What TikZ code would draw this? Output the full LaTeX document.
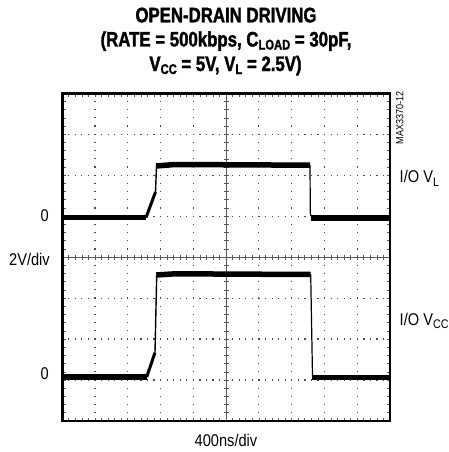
\documentclass[tikz,border=0pt]{standalone}
\usepackage{fontspec}
\setmainfont{Liberation Sans}[FakeStretch=0.86]
\newfontfamily\titlefont{Liberation Sans}[FakeStretch=0.8, BoldFeatures={FakeBold=1.6}]
\usepackage{tikz}
\usetikzlibrary{calc}
\newcommand{\xl}{62.2}
\newcommand{\xr}{390}
\newcommand{\yt}{93.3}
\newcommand{\yb}{421}
\newcommand{\dx}{32.78}
\newcommand{\dy}{40.96}
\newcommand{\lsub}[1]{\raisebox{-3.5pt}{\fontsize{12.5}{13}\selectfont #1}}
\newcommand{\tsub}[1]{\raisebox{-3pt}{\fontsize{14}{14}\selectfont #1}}
\newcommand{\band}[4]{\draw[trace] ( #1 , #2 ) -- ( #3 , #4 );}
\newcommand{\edge}[5]{\draw[black, line width=#5] ( #1 , #2 ) -- ( #3 , #4 );}
\tikzset{
  griddotv/.style={black!70, line width=1.2pt, dash pattern=on 1.2pt off 6.99pt, dash phase=0.6pt},
  griddoth/.style={black!70, line width=1.2pt, dash pattern=on 1.2pt off 5.36pt, dash phase=0.6pt},
  axisline/.style={black!65, line width=0.6pt},
  trace/.style={black, line width=5.5pt},
  lbl/.style={inner sep=0pt, font=\fontsize{17}{20}\selectfont},
  headtxt/.style={inner sep=0pt, font=\titlefont\bfseries\fontsize{21}{24}\selectfont}
}

\begin{document}
\begin{tikzpicture}[x=1pt,y=-1pt]

        \useasboundingbox (0,0) rectangle (448,452);

        % title
        \node[headtxt, anchor=base] (head1) at (226,22.3) {OPEN-DRAIN DRIVING};
        \node[headtxt, anchor=base] (head2) at (226,46.5) {(RATE = 500kbps, C\tsub{LOAD} = 30pF,};
        \node[headtxt, anchor=base] (head3) at (225.5,71) {V\tsub{CC} = 5V, V\tsub{L} = 2.5V)};

        % grid
        \foreach \i in {1,2,3,4,6,7,8,9}
            \draw[griddotv] ({\xl+\i*\dx},\yt) -- ({\xl+\i*\dx},\yb);
        \foreach \j in {1,2,3,5,6,7}
            \draw[griddoth] (\xl,{\yt+\j*\dy}) -- (\xr,{\yt+\j*\dy});

        % centre lines
        \draw[axisline] (\xl,{\yt+4*\dy}) -- (\xr,{\yt+4*\dy});
        \draw[axisline] ({\xl+5*\dx},\yt) -- ({\xl+5*\dx},\yb);
        \foreach \k in {1,...,49}
            \draw[axisline] ({\xl+\k*\dx/5},{\yt+4*\dy-2.5}) -- ++(0,5);
        \foreach \k in {1,...,39}
            \draw[axisline] ({\xl+5*\dx-2.5},{\yt+\k*\dy/5}) -- ++(5,0);

        % border ticks
        \foreach \k in {1,...,49} {
            \draw[axisline] ({\xl+\k*\dx/5},\yt) -- ++(0,3.5);
            \draw[axisline] ({\xl+\k*\dx/5},\yb) -- ++(0,-3.5);
        }
        \foreach \k in {1,...,39} {
            \draw[axisline] (\xl,{\yt+\k*\dy/5}) -- ++(3.5,0);
            \draw[axisline] (\xr,{\yt+\k*\dy/5}) -- ++(-3.5,0);
        }

        % I/O VL
        \band{\xl}{217.5}{146}{217.5}
        \edge{146}{217.5}{155.5}{192}{3pt}
        \edge{155.5}{192}{156.5}{166}{1.4pt}
        \draw[trace] (156,166) -- (175,164.5) -- (310,165.2);
        \draw[black, line width=1.2pt] (310,165) -- (310.3,212) .. controls (310.6,216) .. (313,217.5);
        \band{311}{217.8}{\xr}{217.8}

        % I/O VCC
        \band{\xl}{377}{146.7}{377}
        \edge{146.7}{377}{155}{352.5}{3pt}
        \edge{155}{352.5}{156.7}{275}{1.4pt}
        \draw[trace] (156.3,275) -- (175,273.8) -- (310.7,274.5);
        \edge{310.7}{274.5}{312.5}{376}{1.2pt}
        \band{312}{377.3}{\xr}{377.3}

        % frame
        \draw[line width=2.8pt] (\xl,\yt) rectangle (\xr,\yb);

        % labels
        \node[lbl, anchor=east] (zeroL) at (49,215.5) {0};
        \node[lbl, anchor=base east] (scaleV) at (50,265.7) {2V/div};
        \node[lbl, anchor=east] (zeroC) at (49,373.7) {0};
        \node[lbl, anchor=base] (scaleT) at (226,446.5) {400ns/div};
        \node[lbl, anchor=base west] (chanL) at (399.5,182.7) {I/O V\lsub{L}};
        \node[lbl, anchor=base west] (chanC) at (399.5,325) {I/O V\lsub{CC}};
        \node[rotate=90, inner sep=0pt, font=\fontsize{10.5}{11}\selectfont] (partno) at (399.7,118) {MAX3370-12};

\end{tikzpicture}
\end{document}
